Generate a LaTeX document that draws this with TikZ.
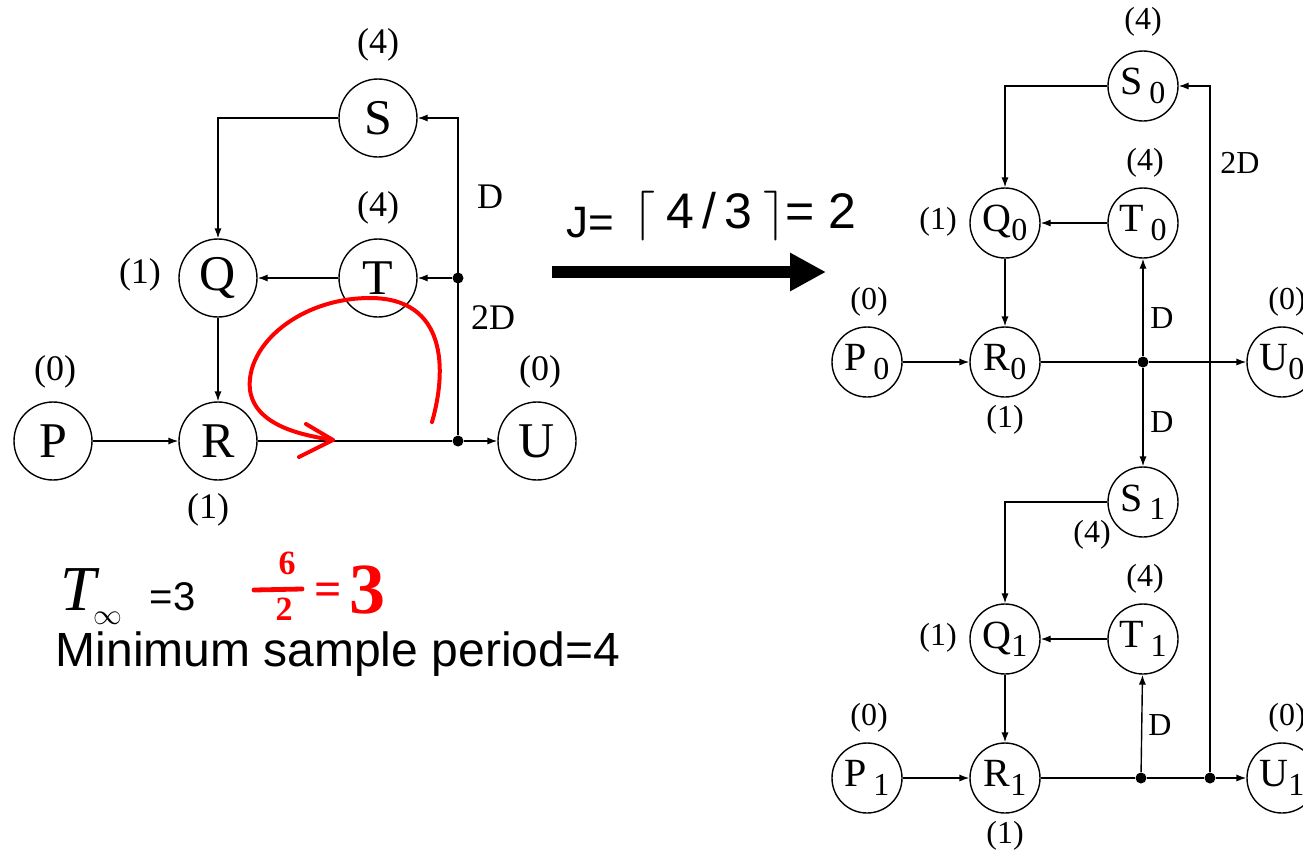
\documentclass[tikz,border=0pt]{standalone}
\usepackage{fontspec}
\usepackage{graphicx}
\setmainfont{Liberation Serif}
\newfontfamily\arialfont{Liberation Sans}
\usetikzlibrary{arrows.meta,positioning,calc}

\newcommand{\idx}[2]{#1\raisebox{-0.45ex}{\scalebox{0.8}{#2}}}
\newcommand{\ceilstrut}{\rule[-5.5pt]{0pt}{25pt}}

\begin{document}
\begin{tikzpicture}[
        x=0.5pt,
        y=-0.5pt,
        >={Latex[length=5pt,width=3.6pt]},
        line width=0.7pt,
        big/.style={draw, circle, minimum size=39pt, inner sep=0pt, font=\fontsize{25}{25}\selectfont},
        small/.style={draw, circle, minimum size=35pt, inner sep=0pt, font=\fontsize{20}{20}\selectfont},
        wt/.style={font=\fontsize{18}{18}\selectfont},
        wts/.style={font=\fontsize{16}{16}\selectfont},
        junc/.style={circle, fill, inner sep=0pt, minimum size=5.5pt},
        note/.style={font=\arialfont\fontsize{24}{24}\selectfont, anchor=base west, inner sep=0pt},
        hand/.style={red, inner sep=0pt, font=\bfseries\fontsize{17}{17}\selectfont}
    ]
        \useasboundingbox (0,0) rectangle (1303,853);

        \node[big] (S) at (378,118) {S};
        \node[big] (T) at (378,278) {T};
        \node[big] (Q) at (218,278) {Q};
        \node[big] (R) at (218,441) {R};
        \node[big] (P) at (53,441) {P};
        \node[big] (U) at (537,441) {U};
        \node[junc] (d1) at (458,441) {};
        \node[junc] (d2) at (458,278) {};
        \node[wt] at (378,45) {(4)};
        \node[wt] at (378,208) {(4)};
        \node[wt] at (140,275) {(1)};
        \node[wt] at (55,372) {(0)};
        \node[wt] at (208,510) {(1)};
        \node[wt] at (540,372) {(0)};
        \node[wt] at (490,197) {D};
        \node[wt] at (493,318) {2D};

        \draw[->] (P) -- (R);
        \draw[->] (Q) -- (R);
        \draw[->] (T) -- (Q);
        \draw[->] (S.west) -| (Q.north);
        \draw (R) -- (d1);
        \draw[->] (d1) -- (U);
        \draw[->] (d1) |- (S.east);
        \draw[->] (d2) -- (T);

        \draw[red, line width=2pt, line cap=round, line join=round]
            (432,422) .. controls (447,370) and (447,298) .. (370,298)
            .. controls (300,298) and (245,345) .. (250,390)
            .. controls (255,425) and (300,435) .. (333,440);
        \draw[red, line width=2pt, line cap=round, line join=round] (306,424) -- (333,440) -- (299,457);

        \node[font=\fontsize{32}{32}\selectfont\itshape, anchor=base west, inner sep=0pt] (tinf) at (60,610) {T};
        \node[font=\fontsize{13.5}{13.5}\selectfont, inner sep=0pt] (inf) at (108,618) {$\infty$};
        \node[font=\arialfont\fontsize{20}{20}\selectfont, anchor=base west, inner sep=0pt] (teq) at (149,610) {=3};
        \node[hand] (h6) at (287,563) {6};
        \node[hand] (h2) at (284,609) {2};
        \coordinate (barL) at (254,590);
        \coordinate (barR) at (302,589);
        \draw[red, line width=2.4pt, line cap=round] (barL) -- (barR);
        \node[hand, font=\bfseries\fontsize{24}{24}\selectfont] (heq) at (328,594) {=};
        \node[hand, font=\bfseries\fontsize{36}{36}\selectfont] (hres) at (367,590) {3};
        \node[note] (msp) at (55,666) {Minimum sample period=4};

        \coordinate (mapL) at (552,272);
        \coordinate (mapR) at (826,272);
        \draw[line width=6pt, -{Triangle[length=18pt,width=18pt]}] (mapL) -- (mapR);
        \node[font=\arialfont\fontsize{22}{22}\selectfont, anchor=base west, inner sep=0pt] (jlbl) at (566,237) {J=};
        \node[font=\arialfont\fontsize{25}{25}\selectfont, anchor=base west, inner sep=0pt] (jval) at (633,228)
            {$\left\lceil\ceilstrut\right.$\,4\,/\,3\,$\left.\ceilstrut\right\rceil$= 2};

        \foreach \i/\o in {0/0,1/416} {
            \node[small] (P\i) at (867,362+\o) {\idx{P\,}{\i}};
            \node[small] (R\i) at (1005,362+\o) {\idx{R}{\i}};
            \node[small] (Q\i) at (1005,223+\o) {\idx{Q}{\i}};
            \node[small] (T\i) at (1143,223+\o) {\idx{T\,}{\i}};
            \node[small] (S\i) at (1143,86+\o) {\idx{S\,}{\i}};
            \node[small] (U\i) at (1282,362+\o) {\idx{U}{\i}};
            \node[wts] at (869,302+\o) {(0)};
            \node[wts] at (1005,420+\o) {(1)};
            \node[wts] at (938,222+\o) {(1)};
            \node[wts] at (1145,163+\o) {(4)};
            \node[wts] at (1287,302+\o) {(0)};
            \draw[->] (P\i) -- (R\i);
            \draw[->] (Q\i) -- (R\i);
            \draw[->] (T\i) -- (Q\i);
            \draw[->] (S\i.west) -| (Q\i.north);
        }
        \node[wts] at (1143,22) {(4)};
        \node[wts] at (1092,535) {(4)};

        \node[junc] (e0) at (1143,362) {};
        \node[junc] (e1) at (1141,778) {};
        \node[junc] (e2) at (1210,778) {};
        \draw (R0) -- (e0);
        \draw[->] (e0) -- (U0);
        \draw[->] (e0) -- (T0);
        \draw[->] (e0) -- (S1);
        \draw (R1) -- (e1) -- (e2);
        \draw[->] (e2) -- (U1);
        \draw[->] (e1) -- (T1);
        \draw[->] (e2) |- (S0.east);
        \node[wts] at (1162,318) {D};
        \node[wts] at (1162,422) {D};
        \node[wts] at (1160,725) {D};
        \node[wts] at (1240,163) {2D};
    \end{tikzpicture}
\end{document}
